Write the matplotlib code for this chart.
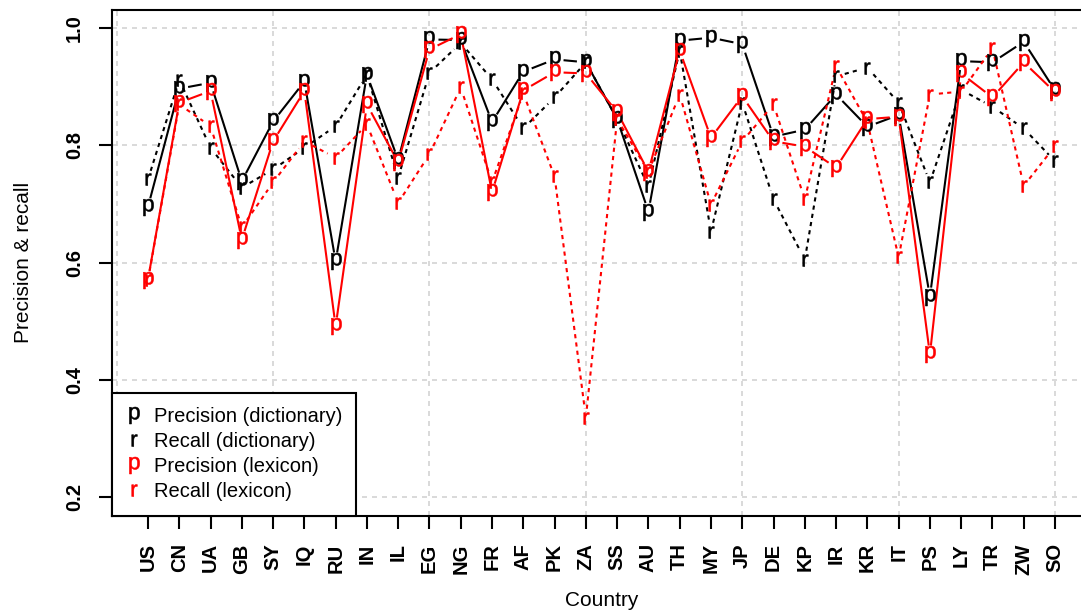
import numpy as np
import matplotlib
matplotlib.use("Agg")
import matplotlib.pyplot as plt
from matplotlib.lines import Line2D

countries = ["US", "CN", "UA", "GB", "SY", "IQ", "RU", "IN", "IL", "EG",
             "NG", "FR", "AF", "PK", "ZA", "SS", "AU", "TH", "MY", "JP",
             "DE", "KP", "IR", "KR", "IT", "PS", "LY", "TR", "ZW", "SO"]

prec_dict = [0.695, 0.897, 0.907, 0.739, 0.841, 0.909, 0.602, 0.921, 0.775, 0.981,
             0.980, 0.840, 0.926, 0.947, 0.942, 0.845, 0.687, 0.979, 0.984, 0.973,
             0.815, 0.827, 0.887, 0.832, 0.852, 0.542, 0.944, 0.942, 0.977, 0.894]
rec_dict = [0.742, 0.912, 0.796, 0.728, 0.759, 0.796, 0.833, 0.921, 0.745, 0.924,
            0.975, 0.913, 0.829, 0.882, 0.942, 0.845, 0.730, 0.962, 0.653, 0.873,
            0.708, 0.605, 0.918, 0.933, 0.873, 0.737, 0.895, 0.866, 0.829, 0.773]
prec_lex = [0.571, 0.873, 0.893, 0.639, 0.807, 0.893, 0.491, 0.870, 0.771, 0.964,
            0.990, 0.720, 0.894, 0.925, 0.923, 0.857, 0.755, 0.962, 0.813, 0.884,
            0.807, 0.798, 0.762, 0.845, 0.849, 0.443, 0.923, 0.882, 0.942, 0.891]
rec_lex = [0.570, 0.870, 0.833, 0.660, 0.737, 0.807, 0.779, 0.836, 0.702, 0.785,
           0.899, 0.737, 0.889, 0.747, 0.335, 0.845, 0.755, 0.887, 0.699, 0.807,
           0.870, 0.708, 0.935, 0.840, 0.609, 0.887, 0.892, 0.966, 0.731, 0.799]

series = [
    ("Precision (dictionary)", prec_dict, "black", "-", "p"),
    ("Recall (dictionary)", rec_dict, "black", "--", "r"),
    ("Precision (lexicon)", prec_lex, "red", "-", "p"),
    ("Recall (lexicon)", rec_lex, "red", "--", "r"),
]

plt.rcParams["font.family"] = ["Liberation Sans", "DejaVu Sans"]
plt.rcParams["mathtext.fontset"] = "custom"
plt.rcParams["mathtext.rm"] = "Liberation Sans"

glyph = {"p": r"$\mathrm{p}$", "r": r"$\mathrm{r}$"}
glyph_size = {"p": 12.2, "r": 8.6}

W, H = 1081, 614
fig = plt.figure(figsize=(W / 100, H / 100), dpi=100)
left, right, top, bottom = 111.7, 1091.3, 9.6, 515.5
ax = fig.add_axes([left / W, 1 - bottom / H, (right - left) / W, (bottom - top) / H])

x = np.arange(1, len(countries) + 1)
ax.set_xlim(1 - 0.04 * 29, 30 + 0.04 * 29)
ax.set_ylim(0.2 - 0.032, 1.0 + 0.032)

# grid like R's grid()
for gx in range(0, 31, 5):
    ax.axvline(gx, color="#d3d3d3", lw=1.2, dashes=(3, 3), zorder=0)
for gy in [0.2, 0.4, 0.6, 0.8, 1.0]:
    ax.axhline(gy, color="#d3d3d3", lw=1.2, dashes=(3, 3), zorder=0)


def draw_b(xs, ys, color, ls, ch, gap=9.0):
    # type="b": lines broken around each point character
    pts = ax.transData.transform(np.column_stack([xs, ys]))
    inv = ax.transData.inverted()
    for a, b in zip(pts[:-1], pts[1:]):
        d = b - a
        L = np.hypot(*d)
        if L <= 2 * gap:
            continue
        u = d / L
        seg = inv.transform(np.array([a + u * gap, b - u * gap]))
        kw = dict(color=color, lw=1.5, solid_capstyle="butt", zorder=2)
        if ls == "--":
            kw["dashes"] = (2.0, 2.0)
        ax.plot(seg[:, 0], seg[:, 1], **kw)
    ax.plot(xs, ys, ls="none", marker=glyph[ch], ms=glyph_size[ch],
            color=color, mec=color, mew=0.4, zorder=3)


for name, vals, col, ls, ch in series:
    draw_b(x, np.array(vals), col, ls, ch)

ax.set_xticks(x)
ax.set_xticklabels(countries, rotation=90, fontsize=14.5, fontweight="bold")
ax.set_yticks([0.2, 0.4, 0.6, 0.8, 1.0])
ax.set_yticklabels(["0.2", "0.4", "0.6", "0.8", "1.0"], rotation=90,
                   fontsize=14.5, fontweight="bold", va="center")
ax.tick_params(axis="both", length=9.5, width=1.5, pad=10.5, color="black")

for sp in ax.spines.values():
    sp.set_linewidth(1.5)

ax.set_xlabel("Country", fontsize=15)
ax.set_ylabel("Precision & recall", fontsize=15)
ax.xaxis.set_label_coords(0.5, (bottom - 591) / (bottom - top))
ax.yaxis.set_label_coords((33 - left) / (right - left), 0.5)

handles = [Line2D([], [], ls="none", marker=glyph[ch], ms=glyph_size[ch],
                  color=col, mew=0.4) for _, _, col, _, ch in series]
leg = ax.legend(handles, [s[0] for s in series], loc="lower left",
                borderaxespad=0, fontsize=14.5, frameon=True, fancybox=False,
                handlelength=0.8, handletextpad=0.6, labelspacing=0.3,
                borderpad=0.7)
leg.get_frame().set_edgecolor("black")
leg.get_frame().set_linewidth(1.5)
leg.get_frame().set_alpha(1)

fig.savefig("out.png", dpi=100)
